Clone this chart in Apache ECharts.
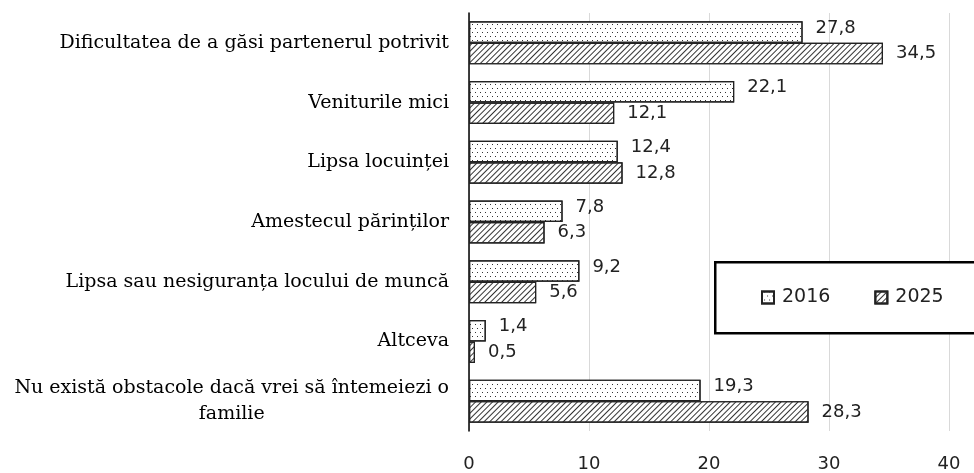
<!DOCTYPE html>
<html>
<head>
<meta charset="utf-8">
<script src="https://cdn.jsdelivr.net/npm/echarts@6/dist/echarts.min.js"></script>
<style>
  html, body { margin: 0; padding: 0; background: #fff; }
  #container { width: 974px; height: 473px; }
</style>
</head>
<body>
<div id="container"></div>
<script>
var categories = [
    'Dificultatea de a găsi partenerul potrivit',
    'Veniturile mici',
    'Lipsa locuinței',
    'Amestecul părinților',
    'Lipsa sau nesiguranța locului de muncă',
    'Altceva',
    'Nu există obstacole dacă vrei să întemeiezi o familie'
];
var values2016 = [27.8, 22.1, 12.4, 7.8, 9.2, 1.4, 19.3];
var values2025 = [34.5, 12.1, 12.8, 6.3, 5.6, 0.5, 28.3];
var xTicks = [0, 10, 20, 30, 40];

var dom = document.getElementById('container');
var myChart = echarts.init(dom, null, { renderer: 'canvas' });

var sansFont = "'DejaVu Sans', 'Liberation Sans', sans-serif";
var serifFont = "'DejaVu Serif', 'Liberation Serif', serif";

function fmt(p) {
    return p.value.toFixed(1).replace('.', ',');
}

// dotted fill for 2016, diagonal hatch for 2025
var dotDecal = {
    symbol: 'rect',
    symbolSize: 1,
    color: '#333',
    dashArrayX: [[1, 4], [0, 2, 1, 2]],
    dashArrayY: [1, 2.5]
};
var hatchDecal = {
    symbol: 'rect',
    symbolSize: 1,
    color: '#333',
    rotation: -Math.PI / 4,
    dashArrayX: [1, 0],
    dashArrayY: [1, 3]
};

function labelStyle(dy) {
    return {
        show: true,
        position: 'right',
        distance: 13,
        offset: [0, dy],
        formatter: fmt,
        fontFamily: sansFont,
        fontSize: 18,
        color: '#222'
    };
}

var option = {
    animation: false,
    backgroundColor: '#fff',
    grid: { left: 469, right: 25, top: 13, bottom: 40, containLabel: false },
    graphic: [{
        type: 'rect',
        left: 714,
        top: 261,
        z: 3,
        shape: { width: 300, height: 71 },
        style: { fill: '#fff', stroke: '#000', lineWidth: 2.5 }
    }],
    legend: {
        left: 761,
        top: 288,
        orient: 'horizontal',
        icon: 'rect',
        itemWidth: 12,
        itemHeight: 12,
        itemGap: 44,
        padding: 0,
        z: 5,
        textStyle: { fontFamily: sansFont, fontSize: 19, color: '#222', padding: [0, 0, 0, 3] },
        data: ['2016', '2025']
    },
    xAxis: {
        type: 'value',
        min: xTicks[0],
        max: xTicks[xTicks.length - 1],
        interval: 10,
        axisLine: { show: false },
        axisTick: { show: false },
        splitLine: { show: true, lineStyle: { color: '#d9d9d9', width: 1 } },
        axisLabel: { margin: 24, fontFamily: sansFont, fontSize: 18, color: '#222' }
    },
    yAxis: {
        type: 'category',
        inverse: true,
        data: categories,
        axisLine: { show: true, lineStyle: { color: '#000', width: 1.5 } },
        axisTick: { show: false },
        axisLabel: {
            margin: 20,
            fontFamily: serifFont,
            fontSize: 19,
            color: '#000',
            lineHeight: 26,
            formatter: function (v) {
                if (v.indexOf('Nu există') === 0) {
                    return '{a|Nu există obstacole dacă vrei să întemeiezi o}\n{b|familie}';
                }
                return v;
            },
            rich: {
                a: { fontFamily: serifFont, fontSize: 19, color: '#000', lineHeight: 26 },
                b: { fontFamily: serifFont, fontSize: 19, color: '#000', lineHeight: 26, align: 'center' }
            }
        }
    },
    series: [{
        name: '2016',
        type: 'bar',
        data: values2016,
        barGap: '0%',
        barCategoryGap: '28%',
        itemStyle: { color: '#fff', borderColor: '#222', borderWidth: 1.2, decal: dotDecal },
        label: labelStyle(-4)
    }, {
        name: '2025',
        type: 'bar',
        data: values2025,
        barGap: '0%',
        barCategoryGap: '28%',
        itemStyle: { color: '#fff', borderColor: '#222', borderWidth: 1.2, decal: hatchDecal },
        label: labelStyle(0)
    }]
};

if (option && typeof option === 'object') {
    myChart.setOption(option, true);
}
</script>
</body>
</html>
